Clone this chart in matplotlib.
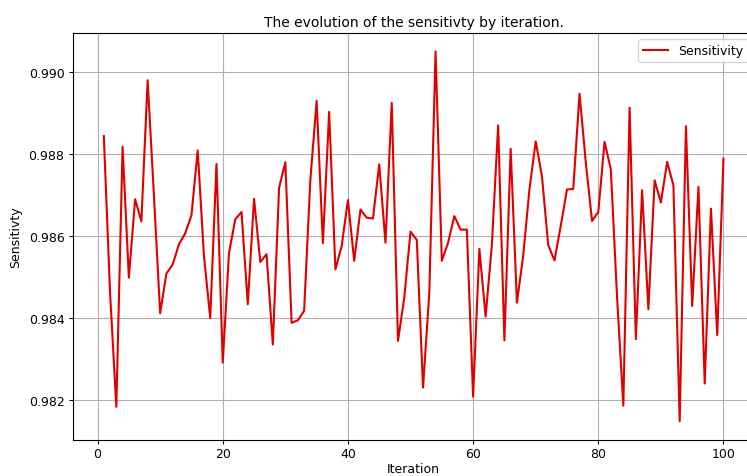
import matplotlib
matplotlib.use("Agg")
import matplotlib.pyplot as plt

iterations = list(range(1, 101))
sensitivity = [
    0.98843, 0.98460, 0.98183, 0.98817, 0.98498, 0.98689, 0.98635, 0.98979, 0.98700, 0.98411,
    0.98508, 0.98530, 0.98579, 0.98606, 0.98650, 0.98808, 0.98551, 0.98399, 0.98775, 0.98291,
    0.98558, 0.98640, 0.98658, 0.98433, 0.98690, 0.98536, 0.98555, 0.98335, 0.98717, 0.98779,
    0.98388, 0.98394, 0.98417, 0.98737, 0.98929, 0.98582, 0.98902, 0.98518, 0.98575, 0.98687,
    0.98539, 0.98664, 0.98644, 0.98642, 0.98774, 0.98583, 0.98924, 0.98344, 0.98449, 0.98610,
    0.98590, 0.98230, 0.98461, 0.99049, 0.98539, 0.98583, 0.98648, 0.98615, 0.98615, 0.98208,
    0.98568, 0.98403, 0.98579, 0.98869, 0.98345, 0.98812, 0.98437, 0.98551, 0.98713, 0.98830,
    0.98745, 0.98577, 0.98540, 0.98624, 0.98713, 0.98714, 0.98946, 0.98779, 0.98636, 0.98658,
    0.98829, 0.98762, 0.98450, 0.98186, 0.98912, 0.98348, 0.98711, 0.98421, 0.98735, 0.98681,
    0.98780, 0.98723, 0.98148, 0.98867, 0.98429, 0.98719, 0.98240, 0.98666, 0.98358, 0.98788,
]

plt.rcParams['font.family'] = ['DejaVu Sans']
plt.rcParams['font.size'] = 9
plt.rcParams['xtick.major.size'] = 3
plt.rcParams['ytick.major.size'] = 3
plt.rcParams['xtick.major.pad'] = 2.5
plt.rcParams['ytick.major.pad'] = 3

fig = plt.figure(figsize=(7.47, 4.77), dpi=100)
ax = fig.add_axes([0.0975, 0.076, 0.9125, 0.8527])
ax.plot(iterations, sensitivity, color='#e00000', linewidth=1.5, label='Sensitivity')
ax.set_title('The evolution of the sensitivty by iteration.', fontsize=10, pad=5)
ax.set_xlabel('Iteration', labelpad=1)
ax.set_ylabel('Sensitivty', labelpad=5)
ax.set_xticks([0, 20, 40, 60, 80, 100])
ax.set_yticks([0.982, 0.984, 0.986, 0.988, 0.990])
ax.grid(True, color='#b0b0b0', linewidth=0.8)
ax.legend(loc='upper right')
fig.savefig('out.png', dpi=100)
